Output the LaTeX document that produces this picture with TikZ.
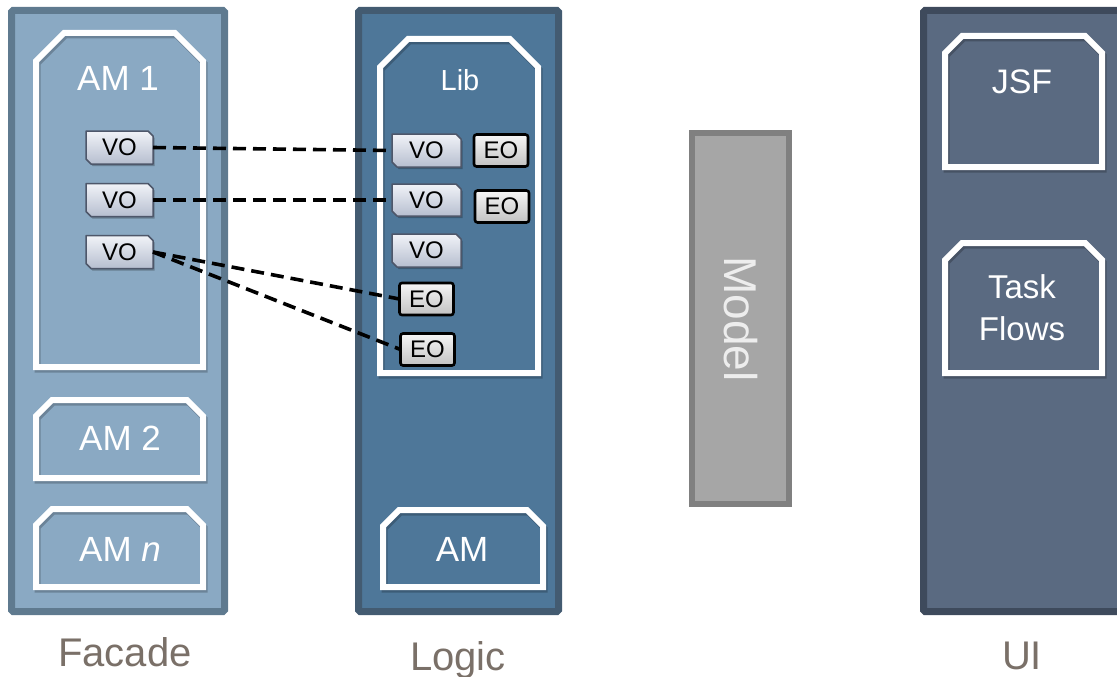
\documentclass[tikz,border=0pt]{standalone}
\usepackage{fontspec}
\setmainfont{Liberation Sans}
\usetikzlibrary{calc}
\pgfdeclarelayer{back}
\pgfdeclarelayer{shapes}
\pgfsetlayers{back,shapes,main}
\definecolor{facfill}{HTML}{8AA9C3}
\definecolor{facline}{HTML}{5F7A8F}
\definecolor{logfill}{HTML}{4E7799}
\definecolor{logline}{HTML}{435B71}
\definecolor{uifill}{HTML}{5A6A81}
\definecolor{uiline}{HTML}{3E4A5C}
\definecolor{modfill}{HTML}{A6A6A6}
\definecolor{modline}{HTML}{808080}
\definecolor{captxt}{HTML}{7A7068}
\definecolor{votop}{HTML}{F1F3F8}
\definecolor{vobot}{HTML}{B6BECF}
\definecolor{voline}{HTML}{4E576A}
\definecolor{eotop}{HTML}{F6F6F6}
\definecolor{eobot}{HTML}{C2C2C2}
% chamfered box with cut top corners: node, chamfer, style
\newcommand\chamtop[3]{\path[#3] (#1.south west) -- ([yshift=-#2pt]#1.north west) -- ([xshift=#2pt]#1.north west) -- ([xshift=-#2pt]#1.north east) -- ([yshift=-#2pt]#1.north east) -- (#1.south east) -- cycle;}
% VO shape: cut north east and south west corners
\newcommand\chamvo[2]{\path[#2] (#1.north west) -- ([xshift=-5pt]#1.north east) -- ([yshift=-5pt]#1.north east) -- (#1.south east) -- ([xshift=5pt]#1.south west) -- ([yshift=5pt]#1.south west) -- cycle;}
\newcommand\vobox[1]{\begin{pgfonlayer}{shapes}\chamvo{#1}{voshadow}\chamvo{#1}{voshape}\end{pgfonlayer}}
\begin{document}
\begin{tikzpicture}[x=1pt,y=-1pt,
  geo/.style={inner sep=0pt,outer sep=0pt,rectangle},
  panel/.style={geo,line width=7pt,rounded corners=1.5pt},
  whitebox/.style={draw=white,line width=6pt,line join=miter},
  boxshadow/.style={draw=black,opacity=0.22,line width=6pt,transform canvas={shift={(1.5pt,-2.5pt)}}},
  big/.style={text=white,inner sep=0pt,anchor=base,font=\fontsize{35}{40}\selectfont},
  caption/.style={text=captxt,inner sep=0pt,anchor=base,font=\fontsize{40}{44}\selectfont},
  vo/.style={geo,minimum width=67pt,minimum height=33pt,font=\fontsize{24}{26}\selectfont},
  voshape/.style={draw=voline,line width=1.5pt,top color=votop,bottom color=vobot,line join=round},
  voshadow/.style={fill=black,opacity=0.25,transform canvas={shift={(1.5pt,-2pt)}}},
  eo/.style={rectangle,inner sep=0pt,outer sep=0pt,minimum width=54pt,minimum height=32pt,
    draw=black,line width=2.6pt,rounded corners=2.5pt,top color=eotop,bottom color=eobot,
    font=\fontsize{24}{26}\selectfont},
  link/.style={draw=black,line width=3.6pt,dash pattern=on 13pt off 7pt}
]
\useasboundingbox (0,0) rectangle (1117,677);
\clip (0,0) rectangle (1117,677);

\begin{pgfonlayer}{back}
% panels
\node[panel,fill=facfill,draw=facline,minimum width=213pt,minimum height=601pt] (facade) at (118,311) {};
\node[panel,fill=logfill,draw=logline,minimum width=200pt,minimum height=601pt] (logic) at (458.5,311) {};
\node[panel,fill=uifill,draw=uiline,minimum width=220pt,minimum height=601pt] (ui) at (1033.5,311) {};
\node[geo,fill=modfill,draw=modline,line width=6pt,minimum width=97pt,minimum height=371pt] (model) at (740.5,318.5) {};
% white boxes
\node[geo,minimum width=167pt,minimum height=334pt] (am1) at (119.5,200) {};
\node[geo,minimum width=167pt,minimum height=78pt] (am2) at (119.5,439) {};
\node[geo,minimum width=167pt,minimum height=78pt] (amn) at (119.5,548) {};
\node[geo,minimum width=158pt,minimum height=334pt] (lib) at (459,206) {};
\node[geo,minimum width=160pt,minimum height=77pt] (amlog) at (463,548.5) {};
\node[geo,minimum width=157pt,minimum height=131pt] (jsf) at (1023.5,101.5) {};
\node[geo,minimum width=157pt,minimum height=130pt] (task) at (1023.5,308) {};
\chamtop{am1}{28}{boxshadow}\chamtop{am1}{28}{whitebox}
\chamtop{am2}{16}{boxshadow}\chamtop{am2}{16}{whitebox}
\chamtop{amn}{16}{boxshadow}\chamtop{amn}{16}{whitebox}
\chamtop{lib}{28}{boxshadow}\chamtop{lib}{28}{whitebox}
\chamtop{amlog}{16}{boxshadow}\chamtop{amlog}{16}{whitebox}
\chamtop{jsf}{17}{boxshadow}\chamtop{jsf}{17}{whitebox}
\chamtop{task}{17}{boxshadow}\chamtop{task}{17}{whitebox}
\end{pgfonlayer}

% texts in boxes
\node[big] (am1t) at (118,91) {AM 1};
\node[big,font=\fontsize{29}{32}\selectfont] (libt) at (460,91) {Lib};
\node[big] (am2t) at (120,450) {AM 2};
\node[big] (amnt) at (120,561) {AM \textit{n}};
\node[big] (amlogt) at (462,561) {AM};
\node[big,font=\fontsize{34}{38}\selectfont] (jsft) at (1022,94) {JSF};
\node[big,font=\fontsize{33}{38}\selectfont] (taskt) at (1022,298) {Task};
\node[big,font=\fontsize{33}{38}\selectfont] (flowst) at (1022,340) {Flows};
\node[text=black!7,inner sep=0pt,rotate=-90,font=\fontsize{46}{50}\selectfont] (modelt) at (741,319) {Model};

% captions
\node[caption] (facadecap) at (125,666) {Facade};
\node[caption] (logiccap) at (458,670) {Logic};
\node[caption] (uicap) at (1022,669) {UI};

% VO objects
\node[vo] (fvo1) at (119.5,147.5) {VO}; \vobox{fvo1}
\node[vo] (fvo2) at (119.5,200) {VO}; \vobox{fvo2}
\node[vo] (fvo3) at (119.5,252) {VO}; \vobox{fvo3}
\node[vo,minimum width=69pt] (lvo1) at (426.5,150.5) {VO}; \vobox{lvo1}
\node[vo,minimum width=69pt,minimum height=32pt] (lvo2) at (426.5,200) {VO}; \vobox{lvo2}
\node[vo,minimum width=69pt] (lvo3) at (426.5,250.5) {VO}; \vobox{lvo3}

% EO objects
\node[eo] (leo1) at (501,150.5) {EO};
\node[eo] (leo2) at (502,206.5) {EO};
\node[eo] (leo3) at (426.5,299) {EO};
\node[eo] (leo4) at (427.5,349.5) {EO};

% dashed links
\draw[link] (fvo1.east) -- (lvo1.west);
\draw[link] (fvo2.east) -- (lvo2.west);
\draw[link] (fvo3.east) -- (leo3.west);
\draw[link] (fvo3.east) -- (leo4.west);
\end{tikzpicture}
\end{document}
